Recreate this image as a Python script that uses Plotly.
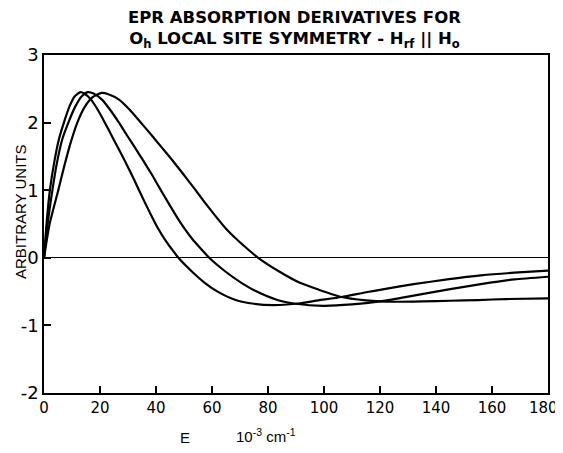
import plotly.graph_objects as go

# Curve A (narrowest)
x_a = [0, 0.9, 2.1, 3.6, 5.3, 7.1, 9.1, 11.0, 13.0,
       14.4, 16.8, 19.2, 21.6, 24.0, 26.4, 28.8, 31.2, 33.6, 36.0, 38.4, 40.8, 43.2, 45.6, 48.0,
       53.0, 57.4, 62.0, 68.2, 75.0, 82.0, 90.0, 98.0, 106.3, 115.0, 122.0, 132.0, 144.0, 156.0, 168.0, 180.0]
y_a = [0, 0.50, 1.00, 1.40, 1.75, 2.00, 2.24, 2.39, 2.45,
       2.43, 2.34, 2.19, 2.01, 1.82, 1.63, 1.44, 1.24, 1.03, 0.82, 0.62, 0.43, 0.27, 0.13, 0.0,
       -0.21, -0.37, -0.50, -0.62, -0.68, -0.70, -0.68, -0.63, -0.58, -0.51, -0.46, -0.39, -0.32, -0.26, -0.22, -0.19]

# Curve B (middle)
x_b = [0, 1.3, 3.0, 4.6, 6.5, 8.7, 11.2, 13.5, 15.6,
       17.7, 20.7, 23.6, 26.6, 29.5, 32.5, 35.4, 38.4, 41.3, 44.3, 47.2, 50.2, 53.1, 56.1, 59.0,
       65.0, 70.5, 76.0, 83.1, 90.0, 99.8, 110.0, 120.0, 132.0, 144.0, 156.0, 168.0, 180.0]
y_b = [0, 0.50, 1.00, 1.40, 1.75, 2.00, 2.24, 2.39, 2.45,
       2.43, 2.34, 2.19, 2.01, 1.82, 1.63, 1.44, 1.24, 1.03, 0.82, 0.62, 0.43, 0.27, 0.13, 0.0,
       -0.21, -0.37, -0.50, -0.62, -0.68, -0.71, -0.69, -0.645, -0.56, -0.47, -0.39, -0.32, -0.28]

# Curve C (broadest)
x_c = [0, 2.0, 5.1, 7.2, 9.5, 11.9, 14.5, 17.5, 20.6,
       23.0, 26.8, 30.6, 34.4, 38.3, 42.1, 45.9, 49.7, 53.6, 57.4, 61.2, 65.0, 68.9, 72.7, 76.5,
       84.3, 91.4, 98.0, 106.3, 115.0, 120.0, 126.0, 135.0, 145.0, 155.0, 165.0, 180.0]
y_c = [0, 0.50, 1.00, 1.35, 1.70, 2.00, 2.23, 2.38, 2.44,
       2.42, 2.34, 2.19, 2.01, 1.82, 1.63, 1.44, 1.24, 1.03, 0.82, 0.62, 0.43, 0.27, 0.13, 0.0,
       -0.21, -0.37, -0.47, -0.58, -0.63, -0.645, -0.65, -0.645, -0.635, -0.625, -0.61, -0.60]

x_ticks = [0, 20, 40, 60, 80, 100, 120, 140, 160, 180]
x_tick_text = ["0", "20", "40", "60", "80", "100", "120", "140", "160", "180\u00a0\u00a0"]
y_ticks = [-2, -1, 0, 1, 2, 3]
y_tick_text = ["-2", "-1", "0", "1", "2", "3"]

FONT = "Liberation Sans"
WIDE = "DejaVu Sans"

fig = go.Figure()
for xs, ys in [(x_a, y_a), (x_b, y_b), (x_c, y_c)]:
    fig.add_trace(go.Scatter(x=xs, y=ys, mode="lines",
                             line=dict(color="black", width=2.2, shape="spline", smoothing=0.6),
                             showlegend=False, hoverinfo="skip"))

# page body has an 8px margin all round; size the figure so the page does not scroll
fig.update_layout(
    width=555, height=437,
    margin=dict(l=36, r=15, t=47, b=52, autoexpand=False),
    paper_bgcolor="white", plot_bgcolor="white",
    font=dict(family=FONT, color="black", size=15),
    xaxis=dict(range=[0, 180], tickvals=x_ticks, ticktext=x_tick_text, ticks="inside", ticklen=7,
               tickwidth=1.5, tickcolor="black", showline=True, linecolor="black", linewidth=1.5,
               mirror=True, showgrid=False, zeroline=False, ticklabeloverflow="allow",
               automargin=False, tickfont=dict(size=15, family=WIDE)),
    yaxis=dict(range=[-2, 3], tickvals=y_ticks, ticktext=y_tick_text, ticks="inside", ticklen=7,
               tickwidth=1.5, tickcolor="black", showline=True, linecolor="black", linewidth=1.5,
               mirror=True, showgrid=False, zeroline=True, zerolinecolor="black", zerolinewidth=1,
               automargin=False, tickfont=dict(size=18, family=WIDE)),
)

fig.add_annotation(
    text="<b>EPR ABSORPTION DERIVATIVES FOR</b><br>"
         "<b>O<sub>h</sub> LOCAL SITE SYMMETRY - H<sub>rf</sub> || H<sub>o</sub></b>",
    xref="paper", yref="paper", x=(294 - 44) / 504, y=1 + 25 / 338, yanchor="middle",
    showarrow=False, font=dict(size=16.5, family=WIDE))
fig.add_annotation(text="ARBITRARY UNITS", textangle=-90, xref="paper", yref="paper",
                   x=(20 - 44) / 504, xanchor="center", y=(393 - 212) / 338, yanchor="middle",
                   showarrow=False, font=dict(size=15, family=FONT))
fig.add_annotation(text="E", xref="paper", yref="paper", x=(178 - 44) / 504, y=(393 - 437) / 338,
                   yanchor="middle", showarrow=False, font=dict(size=15, family=FONT))
fig.add_annotation(text="10<sup>-3</sup> cm<sup>-1</sup>", xref="paper", yref="paper",
                   x=(266 - 44) / 504, y=(393 - 435) / 338, yanchor="middle", showarrow=False,
                   font=dict(size=15, family=FONT))

fig.write_html("out.html")
